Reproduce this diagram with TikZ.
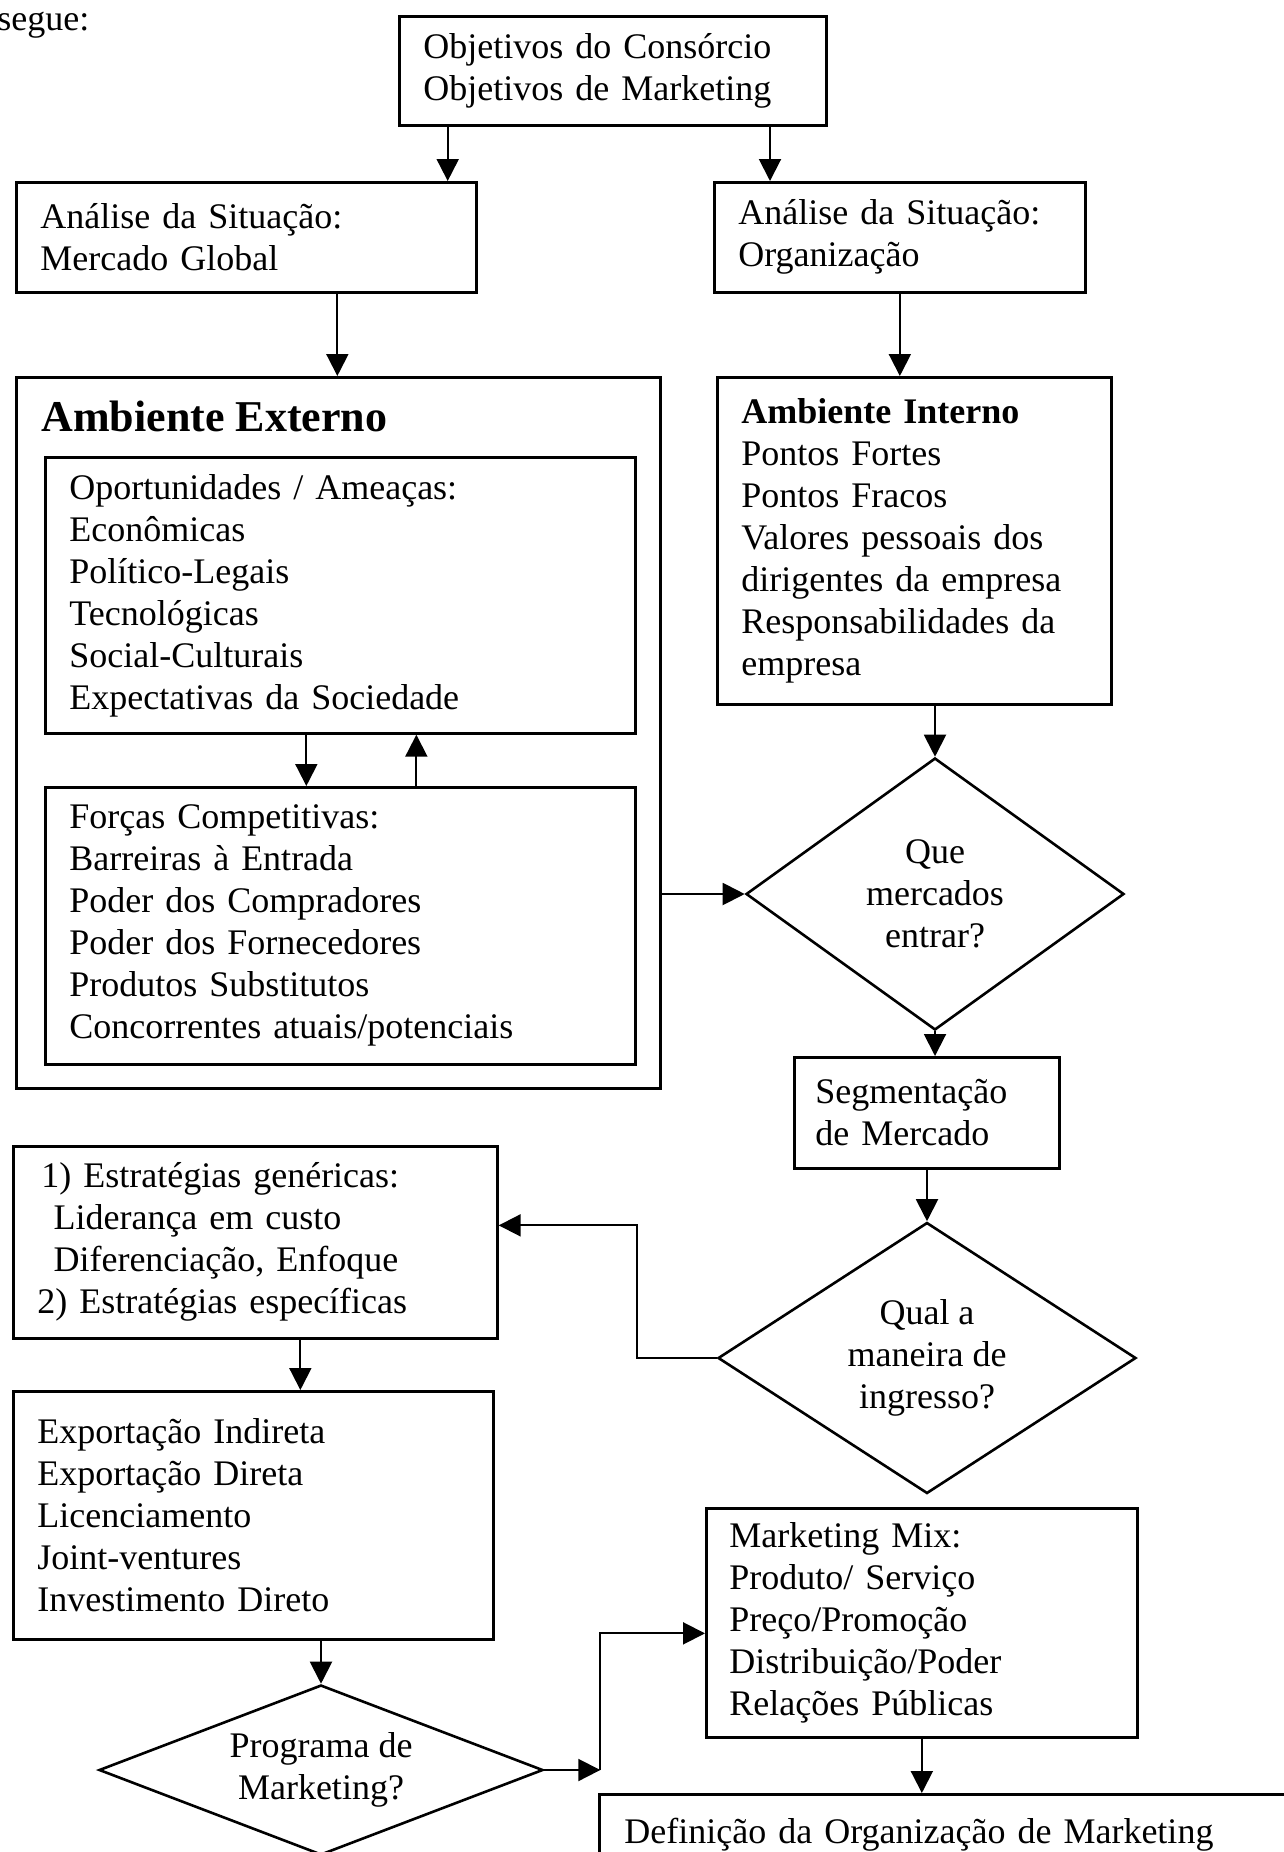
\documentclass[tikz,border=0pt]{standalone}
\usepackage{fontspec}
\setmainfont{Liberation Serif}
\usetikzlibrary{shapes.geometric,arrows.meta}

\begin{document}
\begin{tikzpicture}
[x=0.5pt,y=-0.5pt,
  boxdecorate/.style={shape=rectangle,draw,line width=1.35pt,anchor=north west,align=left,%
    inner xsep=12pt,inner ysep=0pt,font=\fontsize{18}{21}\selectfont},%
  choicedecorate/.style={shape=diamond,draw,line width=1.3pt,inner sep=0pt,align=center,%
    font=\fontsize{18}{21}\selectfont},%
  linedecorate/.style={-{Triangle[length=11pt,width=11pt]},line width=1pt}]
\useasboundingbox (0,0) rectangle (1284,1852);
%% text left over from the page
\node (segue) at (-3,25) [anchor=west,inner sep=0pt,font=\fontsize{18}{21}\selectfont] {segue:};
%% boxes
\node (obj) at (398,15) [boxdecorate,text width=189.5pt,minimum height=54.5pt]
  {Objetivos do Consórcio\\Objetivos de Marketing};
\node (amg) at (15,181) [boxdecorate,text width=206pt,minimum height=55pt]
  {Análise da Situação:\\Mercado Global};
\node (aorg) at (713,181) [boxdecorate,text width=161.5pt,minimum height=55pt]
  {Análise da Situação:\\Organização};
\node (ext) at (15,376) [boxdecorate,minimum width=322pt,minimum height=355.5pt] {};
\node (exttitle) at (41,416) [anchor=west,inner sep=0pt,font=\fontsize{22}{26}\selectfont\bfseries]
  {Ambiente Externo};
\node (opo) at (44,456) [boxdecorate,text width=271pt,minimum height=138pt]
  {Oportunidades / Ameaças:\\Econômicas\\Político-Legais\\Tecnológicas\\Social-Culturais\\Expectativas da Sociedade};
\node (forc) at (44,786) [boxdecorate,text width=271pt,minimum height=138.5pt]
  {Forças Competitivas:\\Barreiras à Entrada\\Poder dos Compradores\\Poder dos Fornecedores\\Produtos Substitutos\\Concorrentes atuais/potenciais};
\node (int) at (716,376) [boxdecorate,text width=173pt,minimum height=163.5pt]
  {\textbf{Ambiente Interno}\\Pontos Fortes\\Pontos Fracos\\Valores pessoais dos\\dirigentes da empresa\\Responsabilidades da\\empresa};
\node (seg) at (793,1056) [boxdecorate,inner xsep=10.5pt,text width=111.5pt,minimum height=55.5pt]
  {Segmentação\\de Mercado};
\node (estr) at (12,1145) [boxdecorate,text width=218pt,minimum height=96pt]
  {\hspace*{2pt}1) Estratégias genéricas:\\\hspace*{0.45em}Liderança em custo\\\hspace*{0.45em}Diferenciação, Enfoque\\2) Estratégias específicas};
\node (exp) at (12,1390) [boxdecorate,text width=216pt,minimum height=124pt]
  {Exportação Indireta\\Exportação Direta\\Licenciamento\\Joint-ventures\\Investimento Direto};
\node (mix) at (705,1507) [boxdecorate,inner xsep=11.5pt,text width=192.5pt,minimum height=114.5pt]
  {Marketing Mix:\\Produto/ Serviço\\Preço/Promoção\\Distribuição/Poder\\Relações Públicas};
\node (def) at (598,1793) [boxdecorate,inner xsep=12.5pt,text width=430pt,minimum height=40pt]
  {Definição da Organização de Marketing};
%% decisions
\node (d1) at (935,894) [choicedecorate,aspect=1.39,minimum width=189pt,minimum height=136pt]
  {Que\\mercados\\entrar?};
\node (d2) at (927,1358) [choicedecorate,aspect=1.54,minimum width=209pt,minimum height=135.5pt]
  {Qual a\\maneira de\\ingresso?};
\node (d3) at (321,1770) [choicedecorate,aspect=2.61,minimum width=222pt,minimum height=85pt]
  {Programa de\\Marketing?};
%% arrows
\draw[linedecorate] ([xshift=-15pt]amg.north east |- obj.south) -- ([xshift=-15pt]amg.north east);
\draw[linedecorate] ([xshift=28.5pt]aorg.north west |- obj.south) -- ([xshift=28.5pt]aorg.north west);
\draw[linedecorate] ([xshift=45.5pt]amg.south) -- ([xshift=45.5pt]amg.south |- ext.north);
\draw[linedecorate] (aorg.south) -- (aorg.south |- int.north);
\draw[linedecorate] (d1.north |- int.south) -- (d1.north);
\draw[linedecorate] ([xshift=-17pt]opo.south) -- ([xshift=-17pt]opo.south |- forc.north);
\draw[linedecorate] ([xshift=38pt]forc.north) -- ([xshift=38pt]forc.north |- opo.south);
\draw[linedecorate] (d1.west -| ext.east) -- (d1.west);
\draw[linedecorate] (d1.south) -- (d1.south |- seg.north);
\draw[linedecorate] (d2.north |- seg.south) -- (d2.north);
\draw[linedecorate] (d2.west) -- ++(-40pt,0) |- ([yshift=8.5pt]estr.east);
\draw[linedecorate] ([xshift=22.5pt]estr.south) -- ([xshift=22.5pt]estr.south |- exp.north);
\draw[linedecorate] (d3.north |- exp.south) -- (d3.north);
\draw[linedecorate] (d3.east) -- ++(28pt,0) coordinate (turn);
\draw[linedecorate] (turn) |- ([yshift=-5.25pt]mix.west);
\draw[linedecorate] (mix.south) -- (mix.south |- def.north);
\end{tikzpicture}
\end{document}
